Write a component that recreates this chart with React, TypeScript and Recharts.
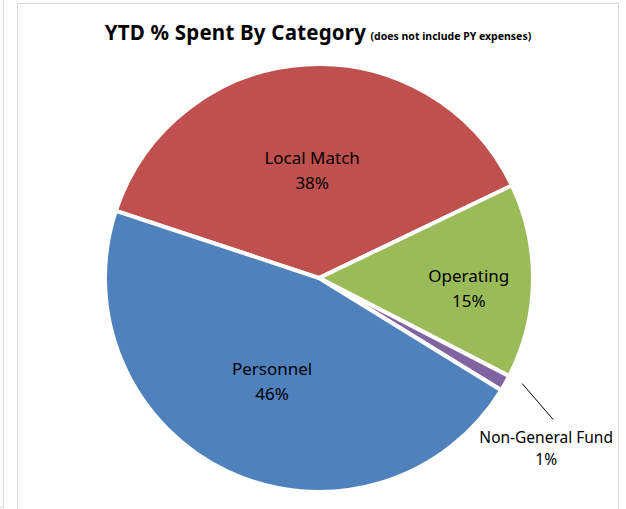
import { PieChart, Pie, Cell } from "recharts";

const categories = ["Local Match", "Operating", "Non-General Fund", "Personnel"];
const spent = [37.8, 14.7, 1.2, 46.3];
const colors = ["#C0504D", "#9BBB59", "#8064A2", "#4F81BD"];
// label placement as a fraction of the radius, and a small vertical nudge
const labelRadius = [0.5, 0.7, 1.07, 0.52];
const labelNudge = [-1, 8, 0, 2];

const data = categories.map((name, i) => ({ name, value: spent[i] }));

const RAD = Math.PI / 180;

function renderLabel(props: any) {
  const { cx, cy, midAngle, outerRadius, index, name, value } = props;
  const font = { fontFamily: "Noto Sans", fontSize: 17, fill: "#000" };
  const pct = `${Math.round(value)}%`;
  if (name === "Non-General Fund") {
    const a = (midAngle + 2) * RAD;
    const x1 = cx + outerRadius * labelRadius[index] * Math.cos(-a);
    const y1 = cy + outerRadius * labelRadius[index] * Math.sin(-a);
    const x2 = x1 + 31;
    const y2 = y1 + 36;
    return (
      <g>
        <line x1={x1} y1={y1} x2={x2} y2={y2} stroke="#000" strokeWidth={1} />
        <text x={x2 - 7} y={y2 + 23} textAnchor="middle" {...font} fontSize={15.5}>
          <tspan x={x2 - 7}>{name}</tspan>
          <tspan x={x2 - 7} dy={22}>{pct}</tspan>
        </text>
      </g>
    );
  }
  const r = outerRadius * labelRadius[index];
  const x = cx + r * Math.cos(-midAngle * RAD);
  const y = cy + r * Math.sin(-midAngle * RAD) + labelNudge[index];
  return (
    <text x={x} y={y - 6} textAnchor="middle" {...font}>
      <tspan x={x}>{name}</tspan>
      <tspan x={x} dy={25}>{pct}</tspan>
    </text>
  );
}

export default function App() {
  return (
    <div
      style={{
        position: "fixed",
        left: 0,
        top: 0,
        width: 626,
        height: 509,
        background: "#fff",
        overflow: "hidden",
      }}
    >
      <div
        style={{
          position: "absolute",
          left: -10,
          top: -2,
          width: 12,
          height: 508,
          border: "1px solid #d9d9d9",
        }}
      />
      <div
        style={{
          position: "absolute",
          left: 17,
          top: 3,
          width: 600,
          height: 520,
          border: "1px solid #d9d9d9",
        }}
      />
      <div
        style={{
          position: "absolute",
          left: 0,
          top: 18,
          width: 636,
          textAlign: "center",
          fontFamily: "Noto Sans",
          fontWeight: 700,
          color: "#000",
          whiteSpace: "nowrap",
          letterSpacing: 0.2,
        }}
      >
        <span style={{ fontSize: 20.5 }}>YTD % Spent By Category</span>{" "}
        <span style={{ fontSize: 10.5, letterSpacing: 0 }}>(does not include PY expenses)</span>
      </div>
      <div style={{ position: "absolute", left: 0, top: 0 }}>
        <PieChart width={626} height={509} margin={{ top: 0, right: 0, bottom: 0, left: 0 }}>
          <Pie
            data={data}
            dataKey="value"
            nameKey="name"
            cx={319}
            cy={278}
            outerRadius={214}
            startAngle={161.7}
            endAngle={-198.3}
            stroke="#fff"
            strokeWidth={4}
            label={renderLabel}
            labelLine={false}
            isAnimationActive={false}
          >
            {data.map((d, i) => (
              <Cell key={d.name} fill={colors[i]} />
            ))}
          </Pie>
        </PieChart>
      </div>
    </div>
  );
}
